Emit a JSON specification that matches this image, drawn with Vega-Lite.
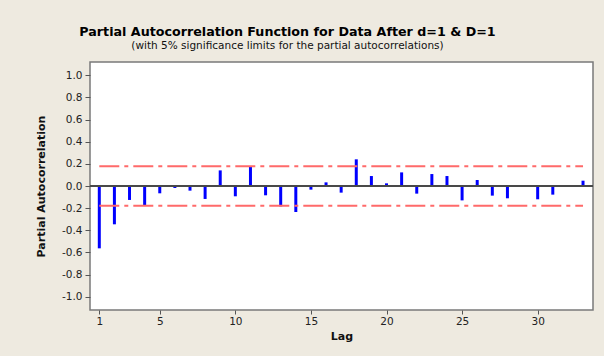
{
  "$schema": "https://vega.github.io/schema/vega-lite/v6.json",
  "width": 503,
  "height": 248,
  "autosize": "none",
  "padding": {"left": 90, "top": 62, "right": 11, "bottom": 46},
  "background": "#EEEAE0",
  "config": {
    "font": "DejaVu Sans",
    "view": {"fill": "white", "stroke": "#7a7a7a", "strokeWidth": 1.5},
    "axis": {"domain": false, "grid": false, "labelFont": "DejaVu Sans", "titleFont": "DejaVu Sans", "labelColor": "#222", "titleColor": "#111", "tickColor": "#555", "labelFontSize": 10.5, "titleFontSize": 11, "titleFontWeight": "bold"}
  },
  "title": {
    "text": "Partial Autocorrelation Function for Data After d=1 & D=1",
    "subtitle": "(with 5% significance limits for the partial autocorrelations)",
    "font": "DejaVu Sans",
    "fontSize": 12.7,
    "fontWeight": "bold",
    "color": "#000",
    "subtitleFont": "DejaVu Sans",
    "subtitleFontSize": 10.5,
    "subtitleColor": "#111",
    "subtitlePadding": 2,
    "anchor": "middle",
    "dx": -54,
    "offset": 11
  },
  "datasets": {
    "pacf": [
      {"lag": 1, "pacf": -0.563},
      {"lag": 2, "pacf": -0.346},
      {"lag": 3, "pacf": -0.126},
      {"lag": 4, "pacf": -0.172},
      {"lag": 5, "pacf": -0.066},
      {"lag": 6, "pacf": -0.018},
      {"lag": 7, "pacf": -0.042},
      {"lag": 8, "pacf": -0.117},
      {"lag": 9, "pacf": 0.141},
      {"lag": 10, "pacf": -0.093},
      {"lag": 11, "pacf": 0.174},
      {"lag": 12, "pacf": -0.084},
      {"lag": 13, "pacf": -0.184},
      {"lag": 14, "pacf": -0.235},
      {"lag": 15, "pacf": -0.033},
      {"lag": 16, "pacf": 0.033},
      {"lag": 17, "pacf": -0.06},
      {"lag": 18, "pacf": 0.241},
      {"lag": 19, "pacf": 0.09},
      {"lag": 20, "pacf": 0.024},
      {"lag": 21, "pacf": 0.123},
      {"lag": 22, "pacf": -0.069},
      {"lag": 23, "pacf": 0.108},
      {"lag": 24, "pacf": 0.09},
      {"lag": 25, "pacf": -0.13},
      {"lag": 26, "pacf": 0.054},
      {"lag": 27, "pacf": -0.087},
      {"lag": 28, "pacf": -0.111},
      {"lag": 29, "pacf": 0.009},
      {"lag": 30, "pacf": -0.12},
      {"lag": 31, "pacf": -0.078},
      {"lag": 32, "pacf": 0.004},
      {"lag": 33, "pacf": 0.048}
    ],
    "limits": [
      {"limit": 0.178},
      {"limit": -0.178}
    ]
  },
  "layer": [
    {
      "data": {"name": "pacf"},
      "mark": {"type": "rule", "color": "#0000FF", "strokeWidth": 3, "strokeCap": "butt"},
      "encoding": {
        "x": {
          "field": "lag",
          "type": "quantitative",
          "scale": {"domain": [0.385, 33.66], "nice": false, "zero": false},
          "axis": {"title": "Lag", "values": [1, 5, 10, 15, 20, 25, 30], "tickCount": 40, "tickSize": 4, "labelPadding": 2, "titlePadding": 4, "labelFlush": false, "labelOverlap": false}
        },
        "y": {
          "field": "pacf",
          "type": "quantitative",
          "scale": {"domain": [-1.12, 1.12], "nice": false, "zero": false},
          "axis": {"title": "Partial Autocorrelation", "values": [-1, -0.8, -0.6, -0.4, -0.2, 0, 0.2, 0.4, 0.6, 0.8, 1], "tickCount": 40, "labelExpr": "datum.value < 0 ? '-' + format(-datum.value, '.1f') : format(datum.value, '.1f')", "tickSize": 5, "labelPadding": 3, "titlePadding": 15, "labelFlush": false, "labelOverlap": false}
        },
        "y2": {"datum": 0}
      }
    },
    {
      "data": {"name": "limits"},
      "mark": {"type": "rule", "color": "#FF6A6A", "strokeWidth": 2, "strokeDash": [20, 5, 4, 5], "strokeCap": "butt"},
      "encoding": {
        "x": {"datum": 1, "type": "quantitative"},
        "x2": {"datum": 33},
        "y": {"field": "limit", "type": "quantitative"}
      }
    },
    {
      "data": {"name": "pacf"},
      "mark": {"type": "rule", "color": "#4a4a4a", "strokeWidth": 1.5},
      "encoding": {
        "y": {"datum": 0, "type": "quantitative"}
      }
    }
  ]
}
